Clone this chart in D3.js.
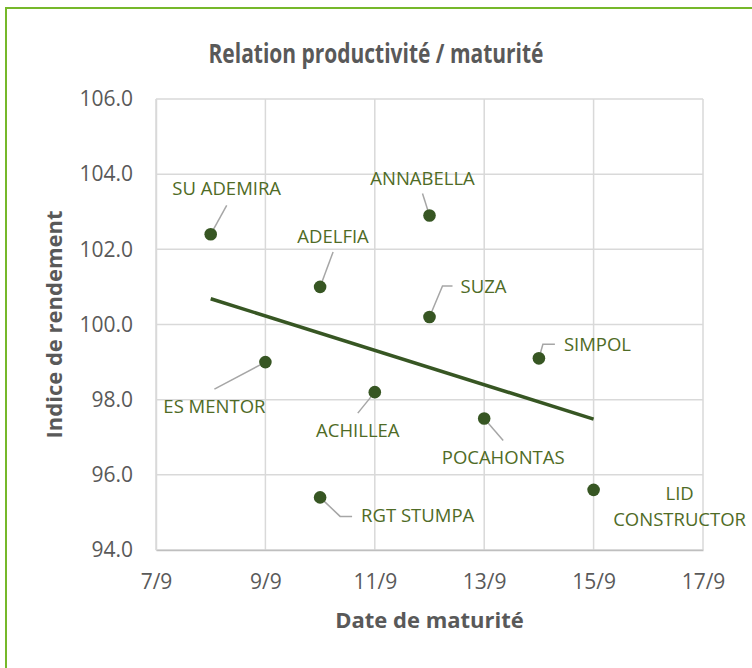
<!DOCTYPE html>
<html>
<head>
<meta charset="utf-8">
<script src="https://cdn.jsdelivr.net/npm/d3@7"></script>
<style>
  body { margin: 0; background: #fff; }
  text { font-family: "Open Sans", sans-serif; }
</style>
</head>
<body>
<svg id="chart"></svg>
<script>
// data
var varieties = ["SU ADEMIRA","ADELFIA","ANNABELLA","SUZA","SIMPOL","ES MENTOR","ACHILLEA","POCAHONTAS","RGT STUMPA","LID CONSTRUCTOR"];
var maturity = ["8/9","10/9","12/9","12/9","14/9","9/9","11/9","13/9","10/9","15/9"];
var yieldIndex = [102.4,101.0,102.9,100.2,99.1,99.0,98.2,97.5,95.4,95.6];
var xTicks = ["7/9","9/9","11/9","13/9","15/9","17/9"];
var yTicks = [94,96,98,100,102,104,106];

// where each label sits relative to its point (text anchor + leader line)
var labelPlace = [
  {dx:16,dy:-39,anchor:"middle",leader:[[16,-29]]},
  {dx:13,dy:-44,anchor:"middle",leader:[[13,-35]]},
  {dx:-7,dy:-31,anchor:"middle",leader:[[-7,-22]]},
  {dx:31,dy:-24,anchor:"start",leader:[[13,-31],[23,-31]]},
  {dx:25,dy:-7,anchor:"start",leader:[[4,-14],[16,-14]]},
  {dx:-51,dy:51,anchor:"middle",leader:[[-51,27]]},
  {dx:-17,dy:45,anchor:"middle",leader:[[-17,21]]},
  {dx:19,dy:46,anchor:"middle",leader:[[19,22]]},
  {dx:41,dy:25,anchor:"start",leader:[[20,19],[32,19]]},
  {dx:86,dy:10,anchor:"middle",leader:[]}
];

var parseDay = d3.timeParse("%d/%m/%Y");
var toDate = function(s){ return parseDay(s + "/2020"); };

var width = 752;
var height = 668;
var margin = {top:99, right:49, bottom:118, left:156};

var svg = d3.select("#chart")
            .attr("width",width)
            .attr("height",height);

var xScale = d3.scaleTime()
              .domain([toDate(xTicks[0]), toDate(xTicks[xTicks.length-1])])
              .range([margin.left, width - margin.right]);

var yScale = d3.scaleLinear()
              .domain([94,106])
              .range([height - margin.bottom, margin.top]);

// outer border (only top and left show in the crop)
svg.append("path")
   .attr("d","M6," + height + " V8 H" + width)
   .attr("fill","none")
   .attr("stroke","#76b82a")
   .attr("stroke-width",2);

// gridlines
svg.append("g")
   .selectAll("line")
   .data(yTicks)
   .enter()
   .append("line")
   .attr("x1",margin.left)
   .attr("x2",width - margin.right)
   .attr("y1",function(d){ return yScale(d); })
   .attr("y2",function(d){ return yScale(d); })
   .attr("stroke","#d9d9d9")
   .attr("stroke-width",1.5);

svg.append("g")
   .selectAll("line")
   .data(xTicks)
   .enter()
   .append("line")
   .attr("x1",function(d){ return xScale(toDate(d)); })
   .attr("x2",function(d){ return xScale(toDate(d)); })
   .attr("y1",margin.top)
   .attr("y2",height - margin.bottom)
   .attr("stroke","#d9d9d9")
   .attr("stroke-width",1.5);

// axes
var xAxis = d3.axisBottom(xScale)
              .tickValues(xTicks.map(toDate))
              .tickFormat(d3.timeFormat("%-d/%-m"))
              .tickSize(0)
              .tickPadding(24);

var yAxis = d3.axisLeft(yScale)
              .tickValues(yTicks)
              .tickFormat(d3.format(".1f"))
              .tickSize(0)
              .tickPadding(23);

var gx = svg.append("g")
            .attr("transform","translate(0," + (height - margin.bottom) + ")")
            .call(xAxis);
var gy = svg.append("g")
            .attr("transform","translate(" + margin.left + ",0)")
            .call(yAxis);

[gx,gy].forEach(function(g){
  g.select(".domain").attr("stroke","#bfbfbf").attr("stroke-width",1.5);
  g.selectAll("text")
   .attr("fill","#595959")
   .style("font-size","21px")
   .style("font-family","'Open Sans', sans-serif");
});
gy.select(".domain").attr("stroke","#d9d9d9");

// trendline (least squares)
var pts = maturity.map(function(m,i){
  return {x:xScale(toDate(m)), y:yieldIndex[i], day:+toDate(m)};
});
var mx = d3.mean(pts,function(d){ return d.day; });
var my = d3.mean(yieldIndex);
var sxy = d3.sum(pts,function(d){ return (d.day-mx)*(d.y-my); });
var sxx = d3.sum(pts,function(d){ return (d.day-mx)*(d.day-mx); });
var slope = sxy/sxx;
var ends = d3.extent(pts,function(d){ return d.day; });

svg.append("line")
   .attr("x1",xScale(ends[0]))
   .attr("y1",yScale(my + slope*(ends[0]-mx)))
   .attr("x2",xScale(ends[1]))
   .attr("y2",yScale(my + slope*(ends[1]-mx)))
   .attr("stroke","#375623")
   .attr("stroke-width",3.5);

// leader lines
svg.append("g")
   .selectAll("path")
   .data(varieties)
   .enter()
   .append("path")
   .attr("d",function(d,i){
     var px = xScale(toDate(maturity[i]));
     var py = yScale(yieldIndex[i]);
     var lp = labelPlace[i].leader;
     if(lp.length == 0){ return ""; }
     return "M" + px + "," + py + lp.map(function(p){
       return "L" + (px+p[0]) + "," + (py+p[1]);
     }).join("");
   })
   .attr("fill","none")
   .attr("stroke","#a6a6a6")
   .attr("stroke-width",1.5);

// points
svg.append("g")
   .selectAll("circle")
   .data(varieties)
   .enter()
   .append("circle")
   .attr("cx",function(d,i){ return xScale(toDate(maturity[i])); })
   .attr("cy",function(d,i){ return yScale(yieldIndex[i]); })
   .attr("r",6.3)
   .attr("fill","#375623");

// data labels
svg.append("g")
   .selectAll("text")
   .data(varieties)
   .enter()
   .append("text")
   .attr("x",function(d,i){ return xScale(toDate(maturity[i])) + labelPlace[i].dx; })
   .attr("y",function(d,i){ return yScale(yieldIndex[i]) + labelPlace[i].dy; })
   .attr("text-anchor",function(d,i){ return labelPlace[i].anchor; })
   .attr("fill","#4f6b26")
   .style("font-size","18.5px")
   .each(function(d){
     var words = d == "LID CONSTRUCTOR" ? ["LID","CONSTRUCTOR"] : [d];
     var t = d3.select(this);
     var x = t.attr("x");
     words.forEach(function(w,k){
       t.append("tspan").attr("x",x).attr("dy",k == 0 ? 0 : 26).text(w);
     });
   });

// titles
svg.append("text")
   .attr("x",376)
   .attr("y",63)
   .attr("text-anchor","middle")
   .attr("fill","#595959")
   .attr("textLength",335)
   .attr("lengthAdjust","spacingAndGlyphs")
   .style("font-size","26px")
   .style("font-weight","bold")
   .text("Relation productivité / maturité");

svg.append("text")
   .attr("x",(margin.left + width - margin.right)/2)
   .attr("y",628)
   .attr("text-anchor","middle")
   .attr("fill","#595959")
   .style("font-size","22px")
   .style("font-weight","bold")
   .text("Date de maturité");

svg.append("text")
   .attr("transform","translate(62," + yScale(100) + ") rotate(-90)")
   .attr("text-anchor","middle")
   .attr("fill","#595959")
   .style("font-size","22px")
   .style("font-weight","bold")
   .text("Indice de rendement");
</script>
</body>
</html>
